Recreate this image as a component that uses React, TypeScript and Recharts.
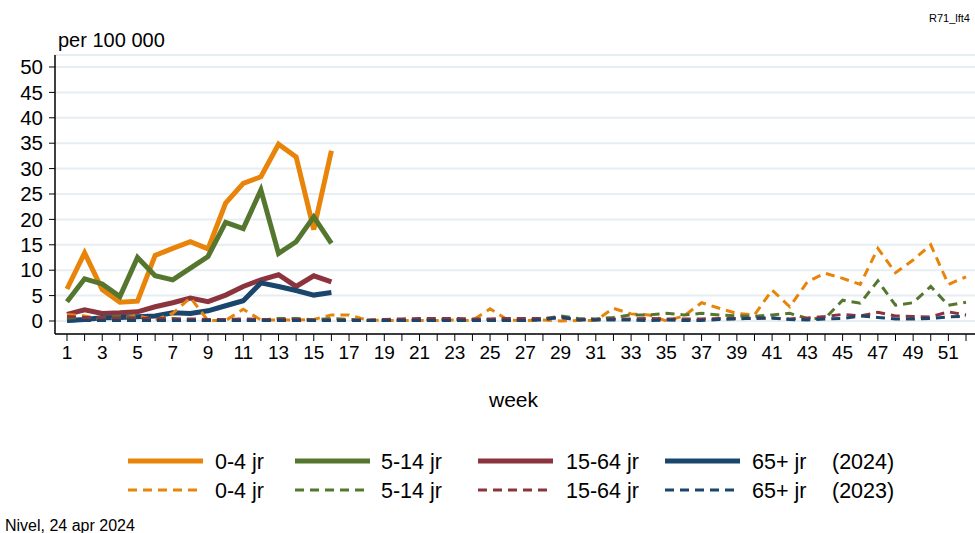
import { LineChart, Line, XAxis, YAxis, CartesianGrid } from 'recharts';

const weeks = [
  1, 2, 3, 4, 5, 6, 7, 8, 9, 10, 11, 12, 13, 14, 15, 16, 17, 18, 19, 20, 21, 22, 23, 24, 25, 26,
  27, 28, 29, 30, 31, 32, 33, 34, 35, 36, 37, 38, 39, 40, 41, 42, 43, 44, 45, 46, 47, 48, 49, 50, 51, 52,
];
const xTicks = weeks;
const yTicks = [0, 5, 10, 15, 20, 25, 30, 35, 40, 45, 50];

// 2024 (weeks 1-16)
const age0to4_2024 = [6.3, 13.4, 6.2, 3.7, 3.9, 12.9, 14.3, 15.6, 14.2, 23.2, 27.1, 28.4, 34.8, 32.3, 18.0, 33.5];
const age5to14_2024 = [3.8, 8.3, 7.3, 4.8, 12.5, 8.9, 8.1, 10.4, 12.7, 19.4, 18.2, 25.8, 13.3, 15.6, 20.5, 15.3];
const age15to64_2024 = [1.3, 2.2, 1.5, 1.6, 1.8, 2.8, 3.6, 4.5, 3.8, 5.1, 6.8, 8.1, 9.1, 6.8, 8.9, 7.7];
const age65plus_2024 = [0.1, 0.3, 0.65, 0.7, 0.85, 1.0, 1.6, 1.5, 2.0, 3.0, 4.0, 7.5, 6.8, 6.0, 5.1, 5.6];

// 2023 (weeks 1-52)
const age0to4_2023 = [
  1.3, 1.0, 0.3, 0.5, 1.1, 0.2, 1.5, 4.6, 0.1, 0.1, 2.3, 0.2, 0.2, 0.2, 0.3, 1.2, 1.2, 0.2, 0.1, 0.1, 0.1, 0.1, 0.2, 0.1, 2.4, 0.2,
  0.1, 0.2, 0.0, 0.1, 0.1, 2.5, 1.4, 1.2, 0.0, 1.0, 3.6, 2.5, 1.5, 1.2, 6.1, 2.8, 7.7, 9.4, 8.4, 7.2, 14.3, 9.5, 12.0, 15.0, 7.2, 8.7,
];
const age5to14_2023 = [
  0.5, 0.6, 0.7, 1.0, 0.6, 0.3, 0.5, 0.2, 0.1, 0.1, 0.2, 0.2, 0.5, 0.5, 0.2, 0.5, 0.3, 0.1, 0.1, 0.2, 0.2, 0.3, 0.3, 0.3, 0.3, 0.2,
  0.2, 0.4, 1.0, 0.5, 0.4, 0.7, 1.2, 1.2, 1.5, 1.2, 1.5, 1.2, 1.0, 0.9, 1.2, 1.5, 0.5, 0.5, 4.1, 3.5, 7.9, 3.1, 3.6, 6.8, 3.1, 3.7,
];
const age15to64_2023 = [
  0.9, 0.7, 0.6, 0.6, 0.5, 0.5, 0.4, 0.4, 0.3, 0.3, 0.4, 0.3, 0.3, 0.3, 0.2, 0.2, 0.2, 0.2, 0.3, 0.4, 0.5, 0.5, 0.5, 0.4, 0.4, 0.5,
  0.5, 0.5, 0.6, 0.3, 0.3, 0.4, 0.4, 0.5, 0.4, 0.4, 0.4, 0.5, 0.5, 0.5, 0.6, 0.4, 0.6, 0.9, 1.3, 1.0, 1.7, 1.0, 0.9, 0.8, 1.8, 1.2,
];
const age65plus_2023 = [
  0.0, 0.1, 0.1, 0.1, 0.1, 0.1, 0.1, 0.1, 0.1, 0.1, 0.1, 0.1, 0.1, 0.1, 0.1, 0.1, 0.1, 0.1, 0.1, 0.1, 0.1, 0.1, 0.1, 0.1, 0.1, 0.1,
  0.1, 0.2, 0.8, 0.2, 0.2, 0.2, 0.2, 0.1, 0.2, 0.1, 0.1, 0.3, 0.4, 0.6, 0.6, 0.3, 0.2, 0.4, 0.5, 1.0, 0.7, 0.4, 0.4, 0.5, 0.8, 0.9,
];

const ORANGE = '#e8840a';
const GREEN = '#55762f';
const RED = '#8c343e';
const BLUE = '#1a466e';
const FONT = '"Liberation Sans", Arial, sans-serif';
const DASH = '9 6';

const data = weeks.map((w, i) => ({
  week: w,
  a24: age0to4_2024[i] ?? null,
  b24: age5to14_2024[i] ?? null,
  c24: age15to64_2024[i] ?? null,
  d24: age65plus_2024[i] ?? null,
  a23: age0to4_2023[i],
  b23: age5to14_2023[i],
  c23: age15to64_2023[i],
  d23: age65plus_2023[i],
}));

const legendCols = [
  { label: '0-4 jr', color: ORANGE, lineX: 128, textX: 215 },
  { label: '5-14 jr', color: GREEN, lineX: 295, textX: 381 },
  { label: '15-64 jr', color: RED, lineX: 478, textX: 566 },
  { label: '65+ jr', color: BLUE, lineX: 665, textX: 752 },
];

export default function App() {
  return (
    <div style={{ position: 'absolute', left: 0, top: 0, width: 975, height: 533, background: '#fff', fontFamily: FONT }}>
      <LineChart width={975} height={533} data={data} margin={{ top: 55, right: 0, left: 0, bottom: 159 }}>
        <CartesianGrid vertical={false} stroke="#e6eef2" strokeWidth={2} />
        <XAxis
          dataKey="week"
          type="number"
          domain={[0.32, 52.51]}
          allowDataOverflow
          ticks={xTicks}
          interval={0}
          tickFormatter={(w: number) => (w % 2 === 1 ? String(w) : '')}
          height={40}
          tickSize={7}
          tickMargin={5}
          axisLine={{ stroke: '#000', strokeWidth: 1.5 }}
          tickLine={{ stroke: '#000', strokeWidth: 1 }}
          tick={{ fill: '#000', fontSize: 19, fontFamily: FONT }}
        />
        <YAxis
          type="number"
          domain={[-2.56, 52.36]}
          allowDataOverflow
          ticks={yTicks}
          interval={0}
          width={55}
          tickSize={6}
          tickMargin={6}
          axisLine={{ stroke: '#000', strokeWidth: 1.5 }}
          tickLine={{ stroke: '#000', strokeWidth: 1 }}
          tick={{ fill: '#000', fontSize: 20.5, fontFamily: FONT }}
        />
        <Line dataKey="a24" stroke={ORANGE} strokeWidth={5} dot={false} isAnimationActive={false} connectNulls={false} />
        <Line dataKey="b24" stroke={GREEN} strokeWidth={5} dot={false} isAnimationActive={false} connectNulls={false} />
        <Line dataKey="c24" stroke={RED} strokeWidth={5} dot={false} isAnimationActive={false} connectNulls={false} />
        <Line dataKey="d24" stroke={BLUE} strokeWidth={5} dot={false} isAnimationActive={false} connectNulls={false} />
        <Line dataKey="a23" stroke={ORANGE} strokeWidth={3} strokeDasharray={DASH} dot={false} isAnimationActive={false} />
        <Line dataKey="b23" stroke={GREEN} strokeWidth={3} strokeDasharray={DASH} dot={false} isAnimationActive={false} />
        <Line dataKey="c23" stroke={RED} strokeWidth={3} strokeDasharray={DASH} dot={false} isAnimationActive={false} />
        <Line dataKey="d23" stroke={BLUE} strokeWidth={3} strokeDasharray={DASH} dot={false} isAnimationActive={false} />
      </LineChart>

      <div style={{ position: 'absolute', left: 58, top: 28, fontSize: 20, color: '#000', lineHeight: '24px' }}>per 100 000</div>
      <div style={{ position: 'absolute', right: 5, top: 12, fontSize: 11, color: '#000' }}>R71_lft4</div>
      <div style={{ position: 'absolute', left: 489, top: 387, fontSize: 21, color: '#000', lineHeight: '26px' }}>week</div>

      <svg width={975} height={60} style={{ position: 'absolute', left: 0, top: 446 }}>
        {legendCols.map((c) => (
          <g key={c.label}>
            <line x1={c.lineX} x2={c.lineX + 75} y1={15} y2={15} stroke={c.color} strokeWidth={5} />
            <text x={c.textX} y={23} fontSize={21.5} fontFamily={FONT} fill="#000">{c.label}</text>
            <line x1={c.lineX} x2={c.lineX + 75} y1={44} y2={44} stroke={c.color} strokeWidth={3} strokeDasharray={DASH} />
            <text x={c.textX} y={52} fontSize={21.5} fontFamily={FONT} fill="#000">{c.label}</text>
          </g>
        ))}
        <text x={832} y={23} fontSize={21.5} fontFamily={FONT} fill="#000">(2024)</text>
        <text x={832} y={52} fontSize={21.5} fontFamily={FONT} fill="#000">(2023)</text>
      </svg>

      <div style={{ position: 'absolute', left: 5, top: 516, fontSize: 16, color: '#000', lineHeight: '20px' }}>Nivel, 24 apr 2024</div>
    </div>
  );
}
